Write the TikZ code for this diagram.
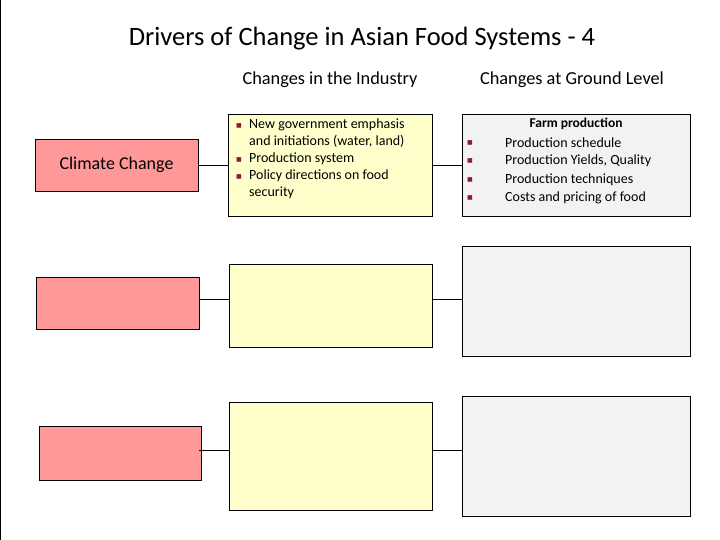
\documentclass[tikz,border=0pt]{standalone}
\usepackage{fontspec}
\setmainfont{Carlito}
\newfontfamily\dejavu{DejaVu Sans}
\definecolor{redf}{HTML}{FF9999}
\definecolor{yelf}{HTML}{FFFFCC}
\definecolor{grayf}{HTML}{F2F2F2}
\definecolor{bul}{HTML}{8B1A3A}
\newcommand{\sqb}{\textcolor{bul}{\dejavu\fontsize{6}{6}\selectfont\raisebox{1.5pt}{■}}}
\begin{document}
\begin{tikzpicture}[x=1pt,y=-1pt,
  box/.style={draw=black,line width=0.9pt},
  conn/.style={draw=black,line width=0.8pt}]
\useasboundingbox (0,0) rectangle (720,540);
\draw[line width=0.8pt] (0.5,0) -- (0.5,540);
\node[font=\fontsize{26.5}{30}\selectfont] (title) at (362,39) {Drivers of Change in Asian Food Systems - 4};
\node[font=\fontsize{18.3}{22}\selectfont] (h1) at (330,80) {Changes in the Industry};
\node[font=\fontsize{18.3}{22}\selectfont] (h2) at (572,80) {Changes at Ground Level};
% row 1
\path[box,fill=redf] (35,139) rectangle (198,191);
\node[font=\fontsize{18}{22}\selectfont] (r1) at (116.5,165) {Climate Change};
\coordinate (r1e) at (198,165);
\path[box,fill=yelf] (228,114) rectangle (432,216);
\coordinate (y1w) at (228,165); \coordinate (y1e) at (432,165);
\path[box,fill=grayf] (462,114) rectangle (690,216);
\coordinate (g1w) at (462,165);
\node[anchor=north west,align=left,font=\fontsize{14}{17}\selectfont,inner sep=0pt] (t1) at (236,119)
 {\makebox[13pt][l]{\sqb}New government emphasis\\[0pt]
  \hspace*{13pt}and initiations (water, land)\\[0pt]
  \makebox[13pt][l]{\sqb}Production system\\[0pt]
  \makebox[13pt][l]{\sqb}Policy directions on food\\[0pt]
  \hspace*{13pt}security};
\node[font=\bfseries\fontsize{13.5}{16}\selectfont] (fp) at (576,124) {Farm production};
\foreach \yy/\tt [count=\i] in {143/Production schedule,161/{Production Yields, Quality},180/Production techniques,198/Costs and pricing of food}{
  \node[inner sep=0pt] (b\i) at (470,\yy) {\sqb};
  \node[anchor=west,font=\fontsize{14}{17}\selectfont,inner sep=0pt] (l\i) at (505,\yy) {\tt};
}
\draw[conn] (r1e) -- (y1w);
\draw[conn] (y1e) -- (g1w);
% row 2
\path[box,fill=redf] (36,277) rectangle (199,329);
\path[box,fill=yelf] (229,264) rectangle (432,347);
\path[box,fill=grayf] (462,246) rectangle (690,356);
\coordinate (r2e) at (199,299); \coordinate (y2w) at (229,299);
\coordinate (y2e) at (432,299); \coordinate (g2w) at (462,299);
\draw[conn] (r2e) -- (y2w);
\draw[conn] (y2e) -- (g2w);
% row 3
\path[box,fill=redf] (39,426) rectangle (201,480);
\path[box,fill=yelf] (229,402) rectangle (432,510);
\path[box,fill=grayf] (462,396) rectangle (690,516);
\coordinate (r3e) at (199,450); \coordinate (y3w) at (229,450);
\coordinate (y3e) at (432,450); \coordinate (g3w) at (462,450);
\draw[conn] (r3e) -- (y3w);
\draw[conn] (y3e) -- (g3w);
\end{tikzpicture}
\end{document}
